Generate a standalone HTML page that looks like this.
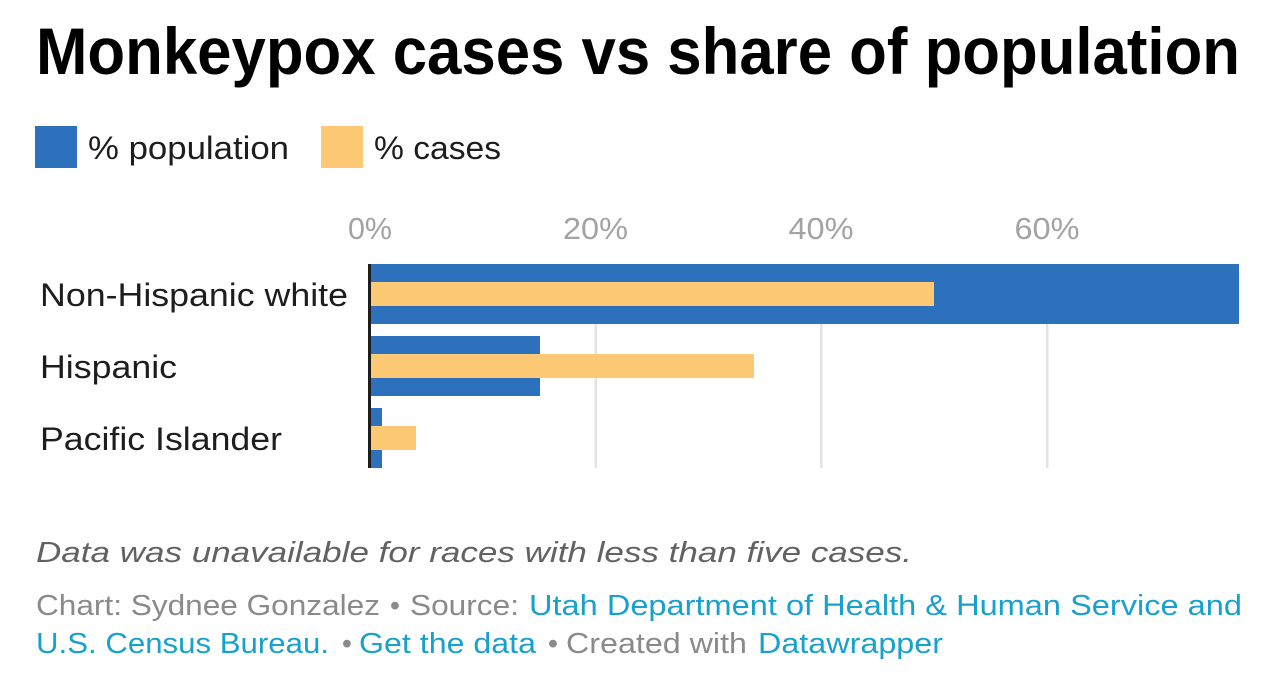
<!DOCTYPE html>
<html>
<head>
<meta charset="utf-8">
<style>
  html, body { margin: 0; padding: 0; background: #ffffff; }
  body { width: 1287px; height: 686px; overflow: hidden; }
  svg { display: block; }
  text { font-family: "Liberation Sans", "DejaVu Sans", sans-serif; }
</style>
</head>
<body>
<svg width="1287" height="686" viewBox="0 0 1287 686" xmlns="http://www.w3.org/2000/svg">
  <rect x="0" y="0" width="1287" height="686" fill="#ffffff"/>

  <!-- Title -->
  <text x="36" y="74" font-size="66" font-weight="bold" fill="#000000" textLength="1204" lengthAdjust="spacingAndGlyphs">Monkeypox cases vs share of population</text>

  <!-- Legend -->
  <rect x="35" y="126" width="42" height="42" fill="#2d70bc"/>
  <text x="88" y="159" font-size="32" fill="#1d1d1d" textLength="201" lengthAdjust="spacingAndGlyphs">% population</text>
  <rect x="321" y="126" width="42" height="42" fill="#fdc975"/>
  <text x="374" y="159" font-size="32" fill="#1d1d1d" textLength="127" lengthAdjust="spacingAndGlyphs">% cases</text>

  <!-- Axis tick labels -->
  <text x="370" y="239" font-size="31" fill="#a3a3a3" text-anchor="middle" textLength="44" lengthAdjust="spacingAndGlyphs">0%</text>
  <text x="595.5" y="239" font-size="31" fill="#a3a3a3" text-anchor="middle" textLength="65" lengthAdjust="spacingAndGlyphs">20%</text>
  <text x="821" y="239" font-size="31" fill="#a3a3a3" text-anchor="middle" textLength="65" lengthAdjust="spacingAndGlyphs">40%</text>
  <text x="1047" y="239" font-size="31" fill="#a3a3a3" text-anchor="middle" textLength="65" lengthAdjust="spacingAndGlyphs">60%</text>

  <!-- Gridlines -->
  <rect x="594.5" y="264" width="2.5" height="204" fill="#e3e3e3"/>
  <rect x="820" y="264" width="2.5" height="204" fill="#e3e3e3"/>
  <rect x="1046" y="264" width="2.5" height="204" fill="#e3e3e3"/>

  <!-- Bars: Non-Hispanic white -->
  <rect x="371" y="264" width="868" height="60" fill="#2d70bc"/>
  <rect x="371" y="282" width="563" height="24" fill="#fdc975"/>
  <!-- Hispanic -->
  <rect x="371" y="336" width="169" height="60" fill="#2d70bc"/>
  <rect x="371" y="354" width="383" height="24" fill="#fdc975"/>
  <!-- Pacific Islander -->
  <rect x="371" y="408" width="11" height="60" fill="#2d70bc"/>
  <rect x="371" y="426" width="45" height="24" fill="#fdc975"/>

  <!-- Baseline axis -->
  <rect x="368" y="264" width="3" height="204" fill="#1d1d1d"/>

  <!-- Category labels -->
  <text x="40" y="306" font-size="32" fill="#1d1d1d" textLength="308" lengthAdjust="spacingAndGlyphs">Non-Hispanic white</text>
  <text x="40" y="378" font-size="32" fill="#1d1d1d" textLength="137" lengthAdjust="spacingAndGlyphs">Hispanic</text>
  <text x="40" y="450" font-size="32" fill="#1d1d1d" textLength="242" lengthAdjust="spacingAndGlyphs">Pacific Islander</text>

  <!-- Notes -->
  <text x="36" y="562" font-size="29" font-style="italic" fill="#626262" textLength="876" lengthAdjust="spacingAndGlyphs">Data was unavailable for races with less than five cases.</text>

  <!-- Footer line 1 -->
  <text x="36" y="615" font-size="29" fill="#8a8a8a" textLength="344" lengthAdjust="spacingAndGlyphs">Chart: Sydnee Gonzalez</text>
  <text x="395" y="615" font-size="29" fill="#8a8a8a" text-anchor="middle">•</text>
  <text x="410" y="615" font-size="29" fill="#8a8a8a" textLength="109" lengthAdjust="spacingAndGlyphs">Source:</text>
  <text x="529" y="615" font-size="29" fill="#18a1cd" textLength="713" lengthAdjust="spacingAndGlyphs">Utah Department of Health &amp; Human Service and</text>

  <!-- Footer line 2 -->
  <text x="36" y="653" font-size="29" fill="#18a1cd" textLength="293" lengthAdjust="spacingAndGlyphs">U.S. Census Bureau.</text>
  <text x="347" y="653" font-size="29" fill="#8a8a8a" text-anchor="middle">•</text>
  <text x="359" y="653" font-size="29" fill="#18a1cd" textLength="177" lengthAdjust="spacingAndGlyphs">Get the data</text>
  <text x="553" y="653" font-size="29" fill="#8a8a8a" text-anchor="middle">•</text>
  <text x="566" y="653" font-size="29" fill="#8a8a8a" textLength="181" lengthAdjust="spacingAndGlyphs">Created with</text>
  <text x="758" y="653" font-size="29" fill="#18a1cd" textLength="185" lengthAdjust="spacingAndGlyphs">Datawrapper</text>
</svg>
</body>
</html>
